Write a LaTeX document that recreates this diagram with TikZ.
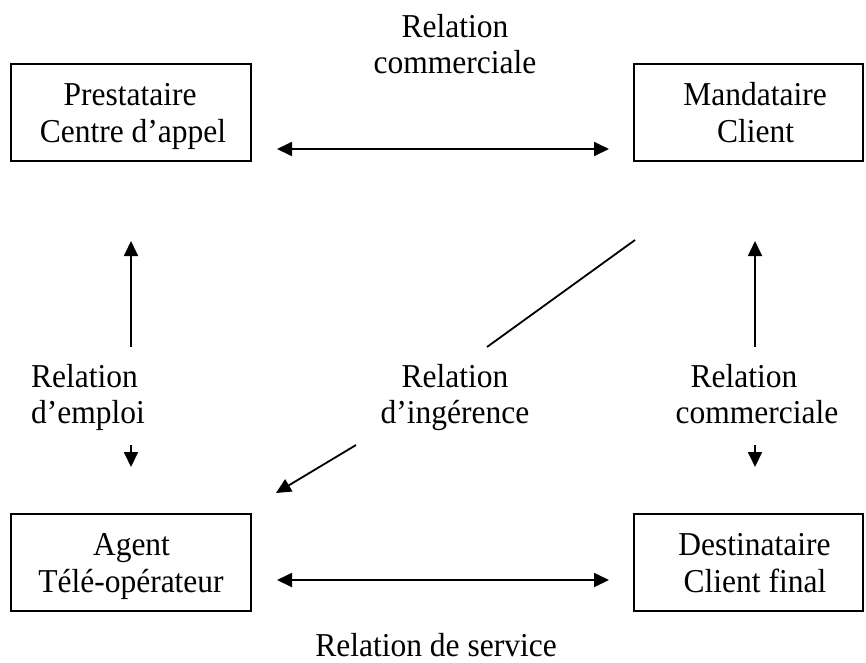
\documentclass[tikz,border=0pt]{standalone}
\usepackage{fontspec}
\setmainfont{Liberation Serif}
\usetikzlibrary{arrows.meta}
\begin{document}
\begin{tikzpicture}[x=1pt,y=-1pt,
  box/.style={draw, line width=2pt, minimum width=#1, minimum height=97pt, inner sep=0pt},
  ln/.style={anchor=base, inner sep=0pt, font=\fontsize{31.5}{36}\selectfont, yscale=1.06, transform shape},
  arr/.style={line width=1.8pt},
  >={Triangle[length=15pt,width=14pt]}]
\useasboundingbox (0,0) rectangle (866,662);

% boxes
\node[box=240] (pre) at (131,112.5) {};
\node[box=229] (man) at (748.5,112.5) {};
\node[box=240] (age) at (131,562.5) {};
\node[box=229] (des) at (748.5,562.5) {};

% box texts
\node[ln] (pre1) at (130,105) {Prestataire};
\node[ln] (pre2) at (133,142) {Centre d’appel};
\node[ln] (man1) at (755,105) {Mandataire};
\node[ln] (man2) at (755.5,142) {Client};
\node[ln] (age1) at (131.5,555) {Agent};
\node[ln] (age2) at (131,592) {Télé-opérateur};
\node[ln] (des1) at (754.5,555) {Destinataire};
\node[ln] (des2) at (755,592) {Client final};

% relation labels
\node[ln] (rc1) at (455,37) {Relation};
\node[ln] (rc2) at (455,73) {commerciale};
\node[ln] (rs) at (436,656) {Relation de service};
\node[ln, anchor=base west] (re1) at (31,387) {Relation};
\node[ln, anchor=base west] (re2) at (31,423) {d’emploi};
\node[ln] (ri1) at (455,387) {Relation};
\node[ln] (ri2) at (455,423) {d’ingérence};
\node[ln] (rc3) at (744,387) {Relation};
\node[ln] (rc4) at (757,423) {commerciale};

% horizontal arrows
\draw[arr,<->] ([shift={(25,36.5)}]pre.east) -- ([shift={(-24,36.5)}]man.west);
\draw[arr,<->] ([shift={(25,17.5)}]age.east) -- ([shift={(-24,17.5)}]des.west);

% left vertical (employment)
\coordinate (e1) at (131,347);
\coordinate (e2) at (131,445);
\draw[arr,->] (e1) -- ([shift={(0,79)}]pre.south);
\draw[arr,->] (e2) -- ([shift={(0,-46)}]age.north);

% right vertical (commercial)
\coordinate (c1) at (755,347);
\coordinate (c2) at (755,445);
\draw[arr,->] (c1) -- ([shift={(6.5,79)}]man.south);
\draw[arr,->] (c2) -- ([shift={(6.5,-46)}]des.north);

% diagonal (interference)
\coordinate (i1) at (487,347);
\coordinate (i2) at (356,445);
\draw[arr] ([shift={(2,78)}]man.south west) -- (i1);
\draw[arr,->] (i2) -- ([shift={(24,-20)}]age.north east);
\end{tikzpicture}
\end{document}
